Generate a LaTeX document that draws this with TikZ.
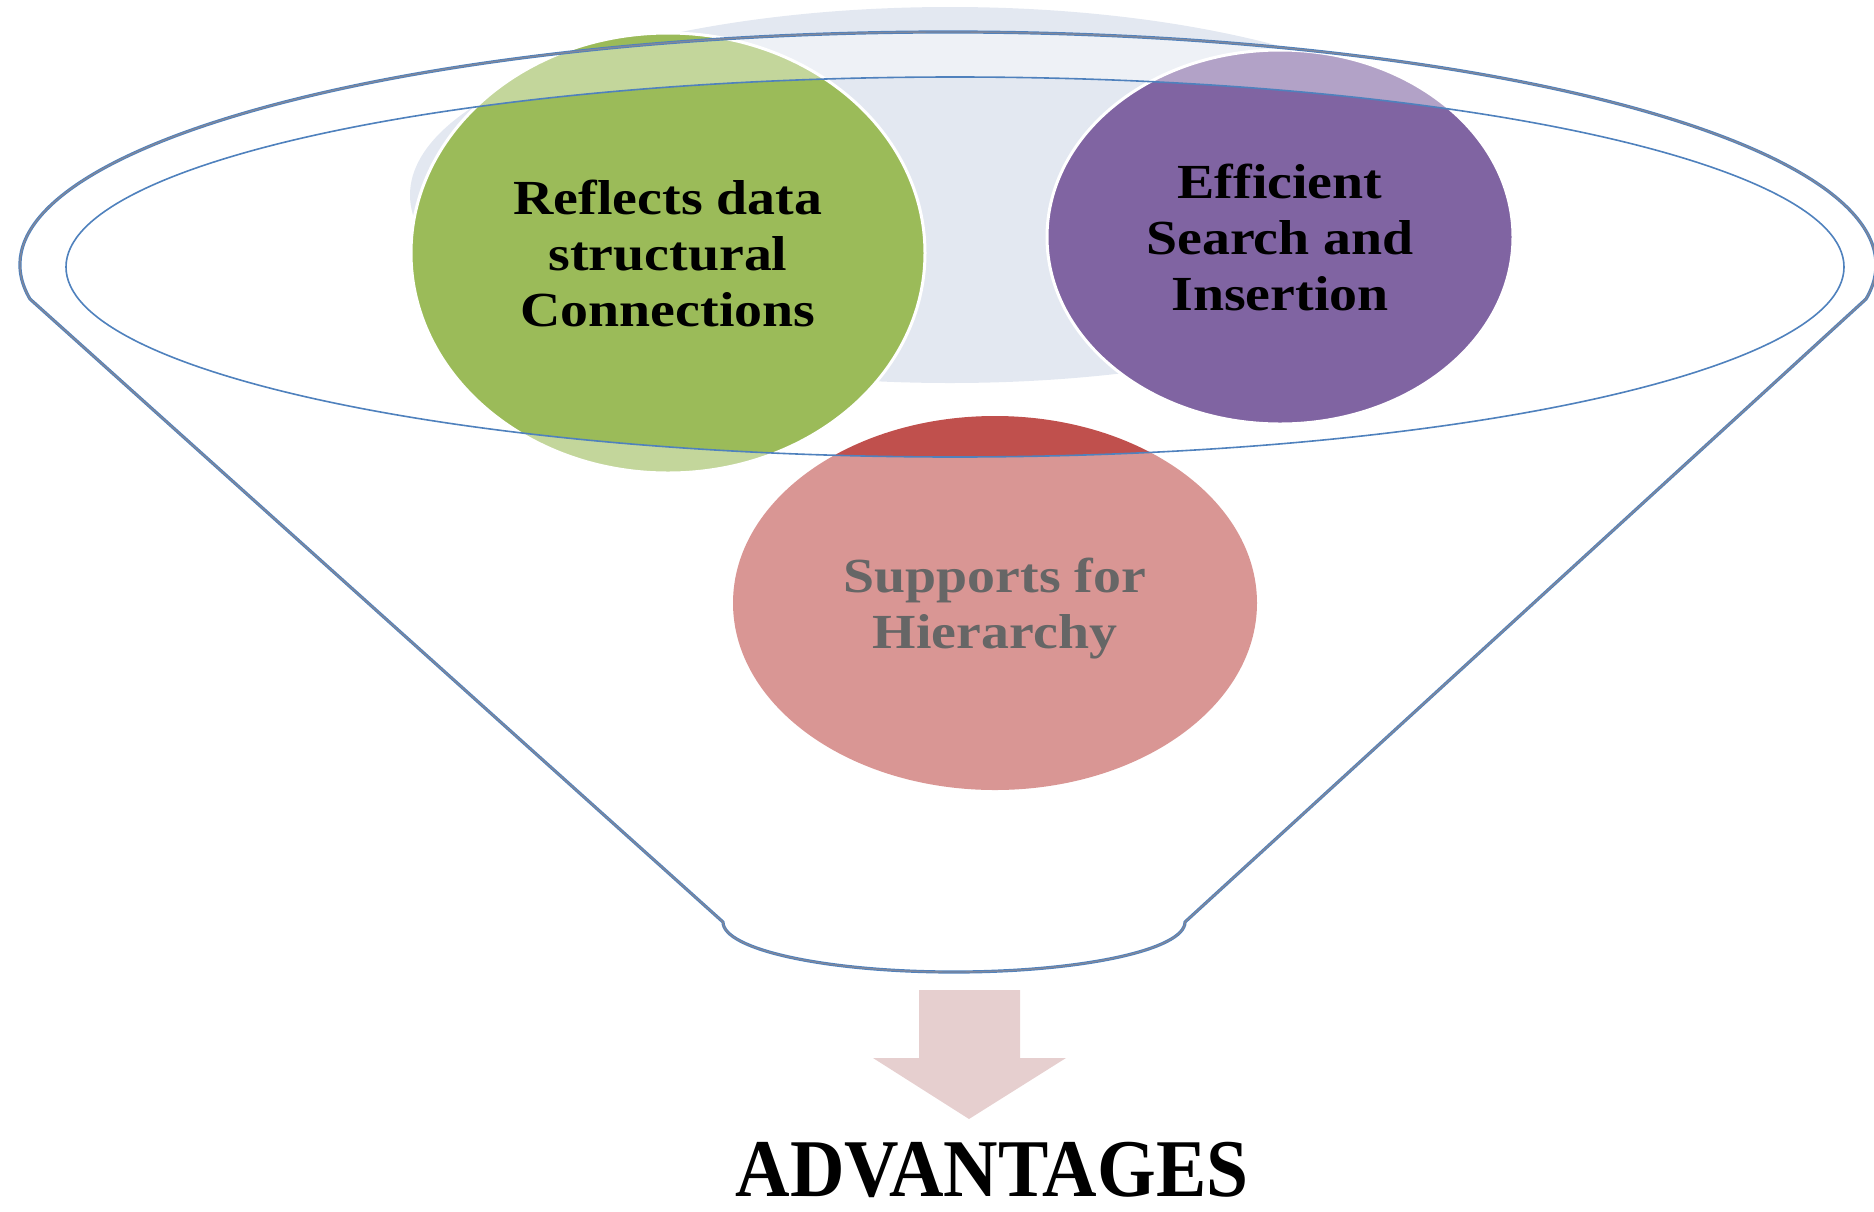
\documentclass[tikz,border=0pt]{standalone}
\usepackage{fontspec}
\setmainfont{Liberation Serif}
\newfontfamily\lblfont[FakeStretch=1.14]{Liberation Serif}
\newfontfamily\titlefont[FakeStretch=0.92]{Liberation Serif}
\usetikzlibrary{shapes.geometric}
\definecolor{paleblue}{HTML}{E3E8F1}
\definecolor{ogreen}{HTML}{9BBB59}
\definecolor{opurple}{HTML}{8064A2}
\definecolor{ored}{HTML}{C0504D}
\definecolor{oblue}{HTML}{4F81BD}
\definecolor{rimgray}{HTML}{80879A}
\definecolor{arrowpink}{HTML}{E6CFCF}
\begin{document}
\begin{tikzpicture}[x=1pt,y=-1pt,
  bubble/.style={ellipse, inner sep=0pt, draw=white, line width=3pt, align=center,
    font=\lblfont\bfseries\fontsize{49}{56}\selectfont},
  funnelline/.style={draw=oblue, line width=0.9pt, double=rimgray, double distance=1.4pt, line join=round},
  rimline/.style={draw=oblue, line width=1.6pt},
  veil/.style={fill=white, fill opacity=0.4, even odd rule}]
\useasboundingbox (0,0) rectangle (1874,1211);
% background pale disc
\fill[paleblue] (950,195) ellipse [x radius=540, y radius=188];
% bubbles
\node[bubble, fill=ogreen, minimum width=514pt, minimum height=440pt] (green) at (668,253)
  {Reflects data\\structural\\Connections};
\node[bubble, fill=opurple, minimum width=466pt, minimum height=374pt] (purple) at (1280,237)
  {Efficient\\Search and\\Insertion};
\node[bubble, fill=ored, draw=none, minimum width=524pt, minimum height=374pt] (red) at (995,603)
  {Supports for\\\raisebox{0pt}[\height][0pt]{Hierarchy}};
% translucent funnel body (outside the mouth)
\path[veil] (30,299) arc[start angle=171.6, end angle=368.4, x radius=928, y radius=233]
  -- (1185,922) arc[start angle=0, end angle=180, x radius=231, y radius=50] -- cycle
  (955,267) ellipse [x radius=889, y radius=190];
% funnel outline
\path[funnelline] (30,299) arc[start angle=171.6, end angle=368.4, x radius=928, y radius=233]
  -- (1185,922) arc[start angle=0, end angle=180, x radius=231, y radius=50] -- cycle;
% mouth
\path[rimline] (955,267) ellipse [x radius=889, y radius=190];
% arrow
\fill[arrowpink] (919,990) -- (1020,990) -- (1020,1058) -- (1066,1058) -- (969,1119)
  -- (873,1058) -- (919,1058) -- cycle;
\node[font=\titlefont\bfseries\fontsize{82}{90}\selectfont, anchor=base, inner sep=0pt] (adv) at (992,1196) {ADVANTAGES};
\end{tikzpicture}
\end{document}
